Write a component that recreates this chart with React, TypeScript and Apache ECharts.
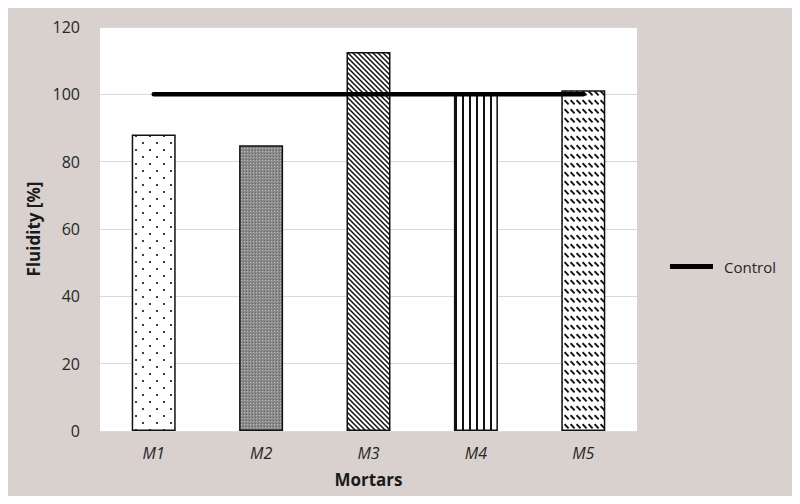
import React, { useEffect, useRef } from "react";
import * as echarts from "echarts";

const categories = ["M1", "M2", "M3", "M4", "M5"];
const fluidity = [88.1, 84.9, 112.6, 100, 101.2];
const control = [100, 100, 100, 100, 100];
const yTicks = { min: 0, max: 120, interval: 20 };

function makeCanvas(w: number, h: number, draw: (ctx: CanvasRenderingContext2D) => void) {
  const c = document.createElement("canvas");
  c.width = w;
  c.height = h;
  const ctx = c.getContext("2d")!;
  draw(ctx);
  return c;
}

function patterns() {
  const dots = makeCanvas(14, 14, (ctx) => {
    ctx.fillStyle = "#fff";
    ctx.fillRect(0, 0, 14, 14);
    ctx.fillStyle = "#111";
    [[3, 3], [10, 10]].forEach(([x, y]) => {
      ctx.beginPath();
      ctx.arc(x, y, 1.1, 0, Math.PI * 2);
      ctx.fill();
    });
  });
  const gray = makeCanvas(3, 3, (ctx) => {
    ctx.fillStyle = "#8a8a8a";
    ctx.fillRect(0, 0, 3, 3);
    ctx.fillStyle = "#bdbdbd";
    ctx.fillRect(1, 1, 1, 1);
    ctx.fillStyle = "#6a6a6a";
    ctx.fillRect(0, 0, 1, 1);
  });
  const diag = makeCanvas(5, 5, (ctx) => {
    ctx.fillStyle = "#fff";
    ctx.fillRect(0, 0, 5, 5);
    ctx.strokeStyle = "#111";
    ctx.lineWidth = 1.5;
    ctx.beginPath();
    ctx.moveTo(-1, -1);
    ctx.lineTo(6, 6);
    ctx.moveTo(4, -1);
    ctx.lineTo(6, 1);
    ctx.moveTo(-1, 4);
    ctx.lineTo(1, 6);
    ctx.stroke();
  });
  const vert = makeCanvas(7, 4, (ctx) => {
    ctx.fillStyle = "#fff";
    ctx.fillRect(0, 0, 7, 4);
    ctx.fillStyle = "#111";
    ctx.fillRect(0, 0, 2, 4);
  });
  const dash = makeCanvas(6, 9, (ctx) => {
    ctx.fillStyle = "#fff";
    ctx.fillRect(0, 0, 6, 9);
    ctx.strokeStyle = "#111";
    ctx.lineWidth = 1.8;
    ctx.beginPath();
    ctx.moveTo(0.6, 1.2);
    ctx.lineTo(4.6, 5.4);
    ctx.stroke();
  });
  return [dots, gray, diag, vert, dash];
}

export default function App() {
  const ref = useRef<HTMLDivElement>(null);
  useEffect(() => {
    if (!ref.current) return;
    const chart = echarts.init(ref.current, undefined, { renderer: "svg" });
    const pats = patterns();
    const font = "'Open Sans', 'Noto Sans', sans-serif";
    chart.setOption({
      animation: false,
      backgroundColor: "#d9d1ce",
      textStyle: { fontFamily: font },
      grid: {
        left: 100,
        right: 163,
        top: 27,
        bottom: 73,
        show: true,
        backgroundColor: "#ffffff",
        borderWidth: 0,
      },
      legend: {
        data: ["Control"],
        left: 665,
        top: 254,
        icon: "rect",
        itemWidth: 43,
        itemHeight: 5,
        textStyle: { fontSize: 15, color: "#262626", fontFamily: font, padding: [0, 0, 0, 6] },
      },
      xAxis: {
        type: "category",
        data: categories,
        axisTick: { show: false },
        axisLine: { show: true, lineStyle: { color: "#d9d9d9", width: 1 } },
        axisLabel: {
          fontSize: 16,
          color: "#262626",
          fontStyle: "italic",
          margin: 14,
          fontFamily: font,
        },
        name: "Mortars",
        nameLocation: "middle",
        nameGap: 40,
        nameTextStyle: { fontSize: 17, fontWeight: "bold", color: "#1a1a1a", fontFamily: font },
      },
      yAxis: {
        type: "value",
        min: yTicks.min,
        max: yTicks.max,
        interval: yTicks.interval,
        axisLine: { show: false },
        axisTick: { show: false },
        splitLine: { lineStyle: { color: "#d9d9d9", width: 1 } },
        axisLabel: { fontSize: 16, color: "#262626", margin: 20, fontFamily: font },
        name: "Fluidity [%]",
        nameLocation: "middle",
        nameGap: 58,
        nameRotate: 90,
        nameTextStyle: { fontSize: 17, fontWeight: "bold", color: "#1a1a1a", fontFamily: font },
      },
      series: [
        {
          name: "Mortars",
          type: "bar",
          barWidth: 44,
          data: fluidity.map((v, i) => ({
            value: v,
            itemStyle: {
              color: { image: pats[i], repeat: "repeat" },
              borderColor: "#111",
              borderWidth: 1.5,
            },
          })),
        },
        {
          name: "Control",
          type: "line",
          data: control,
          symbol: "none",
          z: 5,
          color: "#000",
          lineStyle: { color: "#000", width: 4.5, cap: "round" },
        },
      ],
    });
    return () => chart.dispose();
  }, []);
  return <div ref={ref} style={{ width: 800, height: 504, margin: -8 }} />;
}
